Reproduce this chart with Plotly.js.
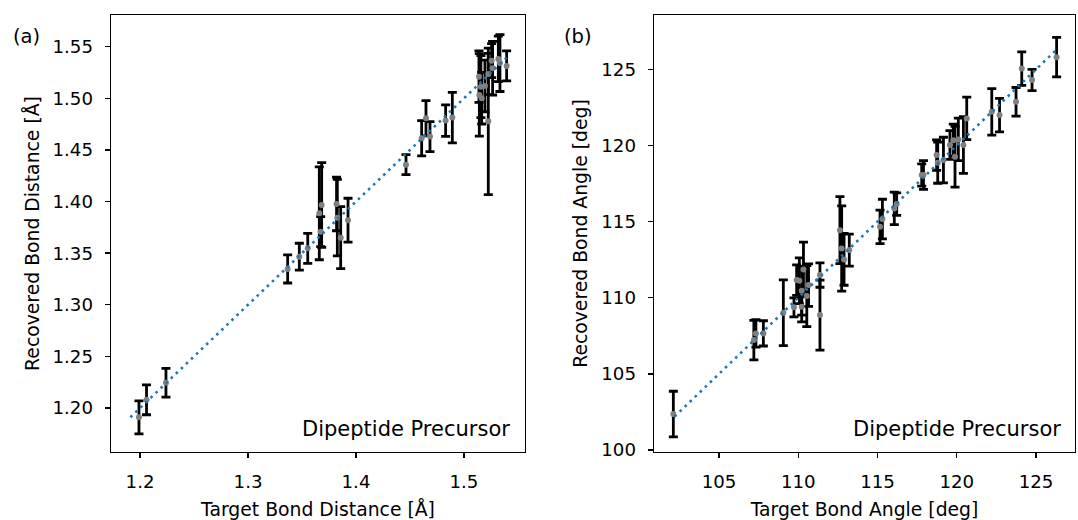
<!DOCTYPE html>
<html>
<head>
<meta charset="utf-8">
<script src="https://cdn.plot.ly/plotly-3.0.1.min.js"></script>
<style>html,body{margin:0;padding:0;background:#fff;}#chart{width:1078px;height:520px;}</style>
</head>
<body>
<div id="chart"></div>
<script>
// Panel (a): bond distances [Å]
const distTarget = [1.199, 1.206, 1.224, 1.3367, 1.3475, 1.3553, 1.3682, 1.366, 1.3673, 1.382, 1.3827, 1.3858, 1.3926, 1.4463, 1.4648, 1.4608, 1.4685, 1.483, 1.4892, 1.5139, 1.5157, 1.5194, 1.5142, 1.5164, 1.5225, 1.5256, 1.5265, 1.5318, 1.5333, 1.5395, 1.5225];
const distRecovered = [1.191, 1.208, 1.2245, 1.3347, 1.3466, 1.3547, 1.3967, 1.3886, 1.3708, 1.3977, 1.3844, 1.365, 1.3819, 1.4357, 1.4807, 1.4613, 1.4629, 1.4784, 1.4813, 1.521, 1.5113, 1.512, 1.5033, 1.5001, 1.5236, 1.5365, 1.5292, 1.5382, 1.5341, 1.5314, 1.4777];
const distError = [0.016, 0.0145, 0.014, 0.0136, 0.013, 0.0145, 0.041, 0.045, 0.0145, 0.026, 0.037, 0.030, 0.0213, 0.0097, 0.017, 0.017, 0.0145, 0.0152, 0.0245, 0.025, 0.03, 0.025, 0.04, 0.025, 0.02, 0.0165, 0.026, 0.022, 0.0275, 0.0145, 0.071];
const distIdentity = [1.191, 1.540];

// Panel (b): bond angles [deg]
const angTarget = [102.12, 107.33, 107.2, 107.8, 109.06, 109.73, 109.9, 110.07, 110.22, 110.33, 110.54, 110.65, 110.22, 111.37, 111.37, 112.63, 112.74, 112.89, 113.22, 115.16, 115.31, 116.06, 116.21, 117.79, 117.9, 118.73, 118.8, 119.16, 119.57, 119.78, 120.1, 119.89, 120.42, 120.63, 122.21, 122.7, 123.74, 124.1, 124.75, 126.3];
const angRecovered = [102.36, 107.66, 107.22, 107.66, 109.01, 109.37, 111.16, 111.12, 110.46, 111.86, 110.11, 110.83, 109.41, 111.49, 108.86, 114.44, 113.24, 112.52, 113.13, 114.66, 115.17, 115.87, 116.15, 118.06, 118.06, 119.37, 118.87, 119.04, 120.03, 120.35, 120.4, 119.26, 120.03, 121.78, 122.21, 122.0, 122.87, 125.05, 124.3, 125.8];
const angError = [1.5, 0.9, 1.3, 0.83, 2.16, 0.62, 1.0, 1.5, 1.6, 1.8, 2.0, 1.4, 1.0, 0.8, 2.3, 2.2, 2.8, 1.7, 1.05, 1.1, 1.3, 1.07, 0.74, 0.73, 0.94, 1.0, 1.35, 1.5, 0.94, 1.05, 1.4, 2.0, 1.86, 1.4, 1.53, 1.1, 0.94, 1.1, 0.7, 1.3];
const angIdentity = [102.2, 126.3];

const panelLabels = ["(a)", "(b)"];
const systemName = "Dipeptide Precursor";

const FONT = "DejaVu Sans, Liberation Sans, sans-serif";
const blue = "#1f77b4";
const TICK = 18.2, TITLE = 18.8;

function errTrace(x, y, e, xa, ya) {
  return {
    x: x, y: y, type: "scatter", mode: "markers", xaxis: xa, yaxis: ya,
    marker: {color: "#808080", size: 6, line: {width: 0}},
    error_y: {type: "data", array: e, visible: true, color: "#000000", thickness: 2.8, width: 4.5},
    showlegend: false, hoverinfo: "x+y"
  };
}
function lineTrace(v, xa, ya) {
  return {
    x: v, y: v, type: "scatter", mode: "lines", xaxis: xa, yaxis: ya,
    line: {color: blue, width: 2.6, dash: "2.6px,4.4px"},
    showlegend: false, hoverinfo: "skip"
  };
}

const data = [
  errTrace(distTarget, distRecovered, distError, "x", "y"),
  lineTrace(distIdentity, "x", "y"),
  errTrace(angTarget, angRecovered, angError, "x2", "y2"),
  lineTrace(angIdentity, "x2", "y2")
];

const axisCommon = {
  showline: true, mirror: true, linecolor: "#000", linewidth: 1.4,
  ticks: "outside", ticklen: 5, tickwidth: 1.4, tickcolor: "#000",
  showgrid: false, zeroline: false,
  tickfont: {family: FONT, size: TICK, color: "#000"}
};
const xCommon = Object.assign({}, axisCommon, {ticklabelstandoff: 8});
const yCommon = Object.assign({}, axisCommon, {ticklabelstandoff: 8});

const layout = {
  width: 1078, height: 520,
  margin: {l: 0, r: 0, t: 15, b: 68},
  paper_bgcolor: "#fff", plot_bgcolor: "#fff",
  font: {family: FONT, size: TICK, color: "#000"},
  xaxis: Object.assign({}, xCommon, {
    domain: [111/1078, 525/1078], range: [1.1731, 1.5565],
    tickmode: "linear", tick0: 1.2, dtick: 0.1, tickformat: ".1f",
    title: {text: "Target Bond Distance [Å]", font: {family: FONT, size: TITLE}, standoff: 12}
  }),
  yaxis: Object.assign({}, yCommon, {
    domain: [0, 1], range: [1.1574, 1.5807],
    tickmode: "linear", tick0: 1.2, dtick: 0.05, tickformat: ".2f",
    title: {text: "Recovered Bond Distance [Å]", font: {family: FONT, size: TITLE}, standoff: 8}
  }),
  xaxis2: Object.assign({}, xCommon, {
    domain: [654/1078, 1075/1078], range: [100.9, 127.46], anchor: "y2",
    tickmode: "linear", tick0: 100, dtick: 5,
    title: {text: "Target Bond Angle [deg]", font: {family: FONT, size: TITLE}, standoff: 12}
  }),
  yaxis2: Object.assign({}, yCommon, {
    domain: [0, 1], range: [99.87, 128.57], anchor: "x2",
    tickmode: "linear", tick0: 100, dtick: 5,
    title: {text: "Recovered Bond Angle [deg]", font: {family: FONT, size: TITLE}, standoff: 8}
  }),
  annotations: [
    {text: panelLabels[0], xref: "paper", yref: "paper", x: 26/1078, y: 1 - 26/520, xanchor: "center", yanchor: "middle", showarrow: false, font: {family: FONT, size: 19.5}},
    {text: panelLabels[1], xref: "paper", yref: "paper", x: 578/1078, y: 1 - 26/520, xanchor: "center", yanchor: "middle", showarrow: false, font: {family: FONT, size: 19.5}},
    {text: systemName, xref: "x domain", yref: "y domain", x: 1, y: 0, xanchor: "right", yanchor: "bottom", xshift: -13, yshift: 9, showarrow: false, font: {family: FONT, size: 21}},
    {text: systemName, xref: "x2 domain", yref: "y2 domain", x: 1, y: 0, xanchor: "right", yanchor: "bottom", xshift: -12, yshift: 9, showarrow: false, font: {family: FONT, size: 21}}
  ]
};

Plotly.newPlot("chart", data, layout, {staticPlot: true, displayModeBar: false});
</script>
</body>
</html>
